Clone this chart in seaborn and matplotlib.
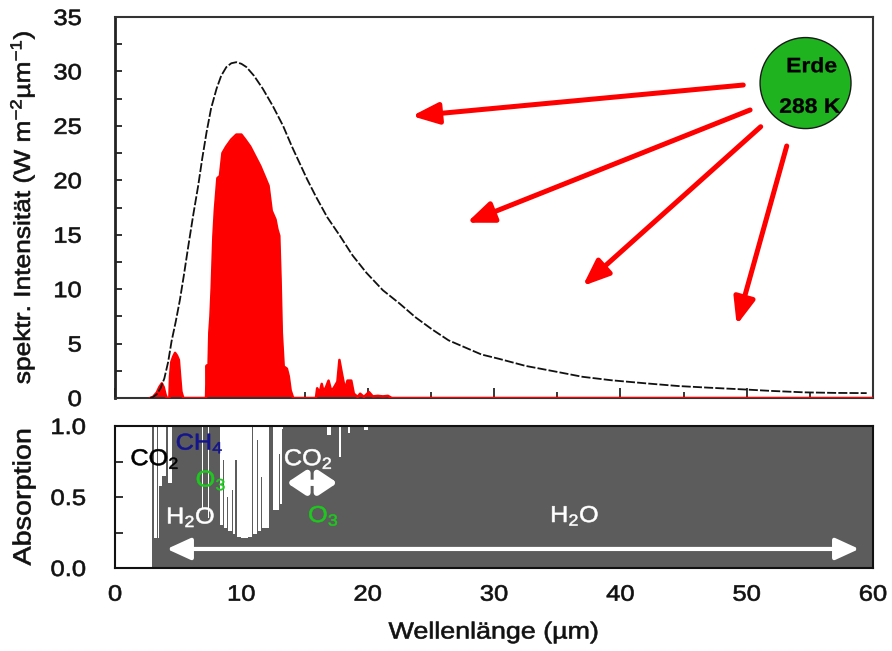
import matplotlib
matplotlib.use("Agg")
import matplotlib.pyplot as plt
import seaborn as sns
import numpy as np
import pandas as pd
from matplotlib.patches import Ellipse
from matplotlib.ticker import MultipleLocator, FixedLocator
from matplotlib.patheffects import AbstractPathEffect
from matplotlib.transforms import Affine2D

# ---------------- data ----------------
# Black curve: emission spectrum of a 288 K body
planck_x = [2.76, 3.0, 3.3, 3.6, 3.9, 4.2, 4.47, 4.8, 5.13, 5.45,
            5.79, 6.2, 6.58, 6.9, 7.24, 7.6, 8.03, 8.4, 8.81, 9.2,
            9.6, 10.0, 10.4, 11.0, 11.7, 12.5, 13.3, 14.0, 14.6, 15.2,
            15.9, 16.8, 17.8, 18.8, 19.9, 21.2, 22.5, 23.8, 25.1, 26.4,
            27.8, 29.0, 30.4, 32.5, 35.0, 37.0, 39.3, 42.0, 44.6, 47.0,
            49.6, 52.0, 54.6, 57.0, 59.5]
planck_y = [0.0, 0.08, 0.35, 0.9, 1.8, 3.3, 5.2, 7.0, 9.0, 11.3,
            13.9, 16.9, 19.5, 22.0, 24.4, 26.6, 28.4, 29.6, 30.4, 30.75,
            30.85, 30.7, 30.4, 29.6, 28.4, 26.8, 25.0, 23.1, 21.6, 20.1,
            18.5, 16.6, 14.9, 13.1, 11.5, 9.9, 8.7, 7.4, 6.3, 5.3,
            4.6, 4.0, 3.6, 2.95, 2.4, 1.95, 1.63, 1.35, 1.1, 0.95,
            0.8, 0.65, 0.52, 0.47, 0.45]

# Red: radiation leaving through the atmospheric windows
red_x = [2.76, 3.0, 3.3, 3.5, 3.7, 3.85, 4.0, 4.1, 4.3, 4.35,
         4.45, 4.6, 4.75, 4.9, 5.05, 5.15, 5.25, 5.4, 7.2, 7.26,
         7.32, 7.39, 7.46, 7.55, 7.65, 7.78, 7.9, 8.1, 8.3, 8.5,
         8.8, 9.2, 9.6, 10.0, 10.3, 10.7, 11.1, 11.5, 11.9, 12.15,
         12.4, 12.7, 12.85, 13.0, 13.1, 13.2, 13.35, 13.6, 13.75, 13.9,
         14.1, 15.9, 16.0, 16.2, 16.36, 16.5, 16.7, 16.9, 17.1, 17.3,
         17.6, 17.76, 17.95, 18.2, 18.4, 18.7, 18.9, 19.2, 19.4, 19.7,
         20.1, 20.4, 20.8, 21.2, 21.6, 21.9, 60.0]
red_y = [0.0, 0.1, 0.5, 1.0, 1.35, 1.0, 0.3, 0.0, 0.0, 2.0,
         3.3, 3.8, 4.15, 3.9, 3.5, 2.0, 0.6, 0.0, 0.0, 3.0,
         0.3, 2.5, 6.0, 7.5, 10.2, 14.8, 17.3, 20.2, 20.4, 22.5,
         23.1, 23.75, 24.2, 24.2, 23.75, 23.1, 22.2, 21.3, 20.2, 19.5,
         17.2, 16.4, 15.5, 14.9, 11.0, 6.0, 2.9, 2.7, 2.0, 0.7,
         0.0, 0.0, 0.9, 0.5, 1.3, 0.6, 1.0, 1.6, 0.7, 0.9,
         1.5, 3.5, 2.3, 0.8, 1.6, 1.6, 0.4, 0.1, 0.4, 0.1,
         0.55, 0.15, 0.2, 0.15, 0.2, 0.0, 0.0]

# Absorption of the atmosphere (value holds until the next wavelength)
abs_x = [0, 2.95, 3.10, 3.30, 3.38, 3.47, 3.75, 4.00, 4.20, 4.47,
         6.85, 6.95, 7.35, 7.45, 8.28, 8.55, 8.65, 8.85, 8.95, 9.25,
         9.35, 9.47, 9.65, 10.0, 10.5, 10.82, 10.90, 11.25, 11.35, 11.55,
         11.65, 12.2, 12.5, 12.95, 13.05, 13.2, 13.3, 16.8, 17.1, 17.75,
         17.9, 18.4, 18.6, 19.7, 20.0, 60]
abs_y = [0, 1.0, 0.21, 1.0, 0.21, 0.58, 0.65, 1.0, 0.60, 1.0,
         0.42, 1.0, 0.35, 1.0, 0.30, 0.76, 0.28, 0.50, 0.26, 0.55,
         0.24, 0.76, 0.22, 0.21, 0.22, 1.0, 0.24, 0.9, 0.26, 0.64,
         0.28, 1.0, 0.41, 0.80, 0.45, 0.98, 1.0, 0.94, 1.0, 0.78,
         1.0, 0.95, 1.0, 0.97, 1.0, 1.0]

x_ticks = [0, 10, 20, 30, 40, 50, 60]
y1_ticks = [0, 5, 10, 15, 20, 25, 30, 35]
y2_ticks = [0.0, 0.5, 1.0]
y2_labels = ["0.0", "0.5", "1.0"]


# ---------------- helpers ----------------
class Stretch(AbstractPathEffect):
    """Widen (and slightly embolden) text glyphs like the reference's wide Helvetica."""

    def __init__(self, sx=1.15, align="center", stroke=0.45):
        super().__init__()
        self.sx = sx
        self.align = align
        self.stroke = stroke

    def draw_path(self, renderer, gc, tpath, affine, rgbFace=None):
        ext = tpath.get_extents()
        if self.align == "right":
            anchor = ext.x1
        elif self.align == "left":
            anchor = ext.x0
        else:
            anchor = 0.5 * (ext.x0 + ext.x1)
        pre = Affine2D().scale(self.sx, 1.0).translate(anchor * (1.0 - self.sx), 0.0)
        gc0 = renderer.new_gc()
        gc0.copy_properties(gc)
        if rgbFace is not None and self.stroke > 0:
            gc0.set_linewidth(self.stroke)
            gc0.set_foreground(rgbFace)
        renderer.draw_path(gc0, tpath, pre + affine, rgbFace)
        gc0.restore()


def wide(text_obj, align="center", sx=1.15, stroke=0.45):
    text_obj.set_path_effects([Stretch(sx, align, stroke)])
    return text_obj


# ---------------- style ----------------
sns.set_theme(style="white")
plt.rcParams["font.family"] = ["Liberation Sans", "DejaVu Sans"]
plt.rcParams["mathtext.fontset"] = "custom"
plt.rcParams["mathtext.rm"] = "Liberation Sans"
plt.rcParams["mathtext.it"] = "Liberation Sans:italic"
plt.rcParams["mathtext.bf"] = "Liberation Sans:bold"

RED = "#ff0000"
GRAY = "#5c5c5c"
TXT = "#111111"

fig = plt.figure(figsize=(8.92, 6.51), dpi=100)
ax1 = fig.add_axes([0.129, 0.3886, 0.8497, 0.5853])
ax2 = fig.add_axes([0.129, 0.1275, 0.8497, 0.2181])

# ---------------- top panel ----------------
spec = pd.DataFrame({"x": red_x, "y": red_y})
ax1.fill_between(spec["x"], 0, spec["y"], color=RED, lw=0, zorder=2)
ax1.plot(spec["x"], spec["y"], color=RED, lw=1.8, zorder=3)

pl = pd.DataFrame({"x": planck_x, "y": planck_y})
sns.lineplot(data=pl, x="x", y="y", ax=ax1, color="#111111", lw=1.3,
             linestyle=(0, (5, 1.2)), sort=True, zorder=4)

ax1.set_xlim(0, 60)
ax1.set_ylim(0, 35)
ax1.set_xlabel("")
ax1.set_ylabel("spektr. Intensität (W m$^{-2}$µm$^{-1}$)", fontsize=16.5, color=TXT)
ax1.yaxis.set_label_coords(-0.103, 0.5)
ax1.yaxis.set_major_locator(FixedLocator(y1_ticks))
ax1.yaxis.set_minor_locator(MultipleLocator(2.5))
ax1.xaxis.set_major_locator(MultipleLocator(10))
ax1.xaxis.set_minor_locator(MultipleLocator(5))
ax1.tick_params(axis="y", which="both", direction="in", length=5, width=1.2,
                left=True, labelsize=16, pad=24, colors=TXT)
ax1.tick_params(axis="x", which="major", direction="in", length=7, width=1.3,
                bottom=True, labelbottom=False)
ax1.tick_params(axis="x", which="minor", direction="in", length=4.5, width=1.3,
                bottom=True)
for s in ["top", "right", "bottom"]:
    ax1.spines[s].set_color("#333333")
    ax1.spines[s].set_linewidth(1.5)
ax1.spines["left"].set_color("#222222")
ax1.spines["left"].set_linewidth(2.0)

# Earth symbol
earth = Ellipse((54.66, 28.93), width=7.2, height=8.36, facecolor="#1fb31f",
                edgecolor="#1a1a1a", lw=1.0, zorder=6)
ax1.add_patch(earth)
wide(ax1.text(55.15, 30.43, "Erde", ha="center", va="center", fontsize=15,
              fontweight="bold", color="black", zorder=7), sx=1.1, stroke=0.2)
wide(ax1.text(55.0, 26.7, "288 K", ha="center", va="center", fontsize=15,
              fontweight="bold", color="black", zorder=7), sx=1.1, stroke=0.2)

# radiation arrows
arrow_props = dict(arrowstyle="-|>,head_length=0.8,head_width=0.32",
                   color=RED, lw=3.6, mutation_scale=20, shrinkA=0, shrinkB=0)
for tail, tip in [((49.73, 28.75), (23.49, 25.9)),
                  ((50.27, 26.46), (27.84, 16.10)),
                  ((51.11, 24.92), (37.02, 10.29)),
                  ((53.17, 23.15), (49.21, 6.71))]:
    ax1.annotate("", xy=tip, xytext=tail, arrowprops=arrow_props, zorder=5)

# ---------------- bottom panel ----------------
ab = pd.DataFrame({"x": abs_x, "y": abs_y})
ax2.fill_between(ab["x"], 0, ab["y"], step="post", color=GRAY, lw=0)
ax2.set_xlim(0, 60)
ax2.set_ylim(0, 1)
ax2.set_xticks(x_ticks)
ax2.set_xticklabels([str(t) for t in x_ticks])
ax2.set_yticks(y2_ticks)
ax2.set_yticklabels(y2_labels)
ax2.yaxis.set_minor_locator(MultipleLocator(0.25))
ax2.tick_params(axis="y", which="both", direction="in", length=6, width=1.2,
                left=True, labelsize=16, pad=21, colors=TXT)
ax2.tick_params(axis="x", which="both", length=0, labelsize=16, pad=12,
                colors=TXT)
ax2.set_ylabel("Absorption", fontsize=18, color=TXT)
ax2.yaxis.set_label_coords(-0.105, 0.5)
ax2.set_xlabel("Wellenlänge (µm)", fontsize=16.8, color=TXT)
ax2.xaxis.set_label_coords(0.5, -0.37)
for s in ax2.spines.values():
    s.set_color("#111111")
    s.set_linewidth(1.5)

fs = 16.5
labels = [
    (3.15, 0.77, "CO$_2$", "black"),
    (6.7, 0.88, "CH$_4$", "#14148c"),
    (7.6, 0.62, "O$_3$", "#1ec81e"),
    (6.0, 0.36, "H$_2$O", "white"),
    (15.3, 0.77, "CO$_2$", "white"),
    (16.5, 0.37, "O$_3$", "#1ec81e"),
    (36.4, 0.37, "H$_2$O", "white"),
]
for lx, ly, s, c in labels:
    wide(ax2.text(lx, ly, s, color=c, ha="center", va="center", fontsize=fs),
         sx=1.1, stroke=0.4)

ax2.annotate("", xy=(17.6, 0.6), xytext=(13.6, 0.6),
             arrowprops=dict(arrowstyle="<|-|>,head_length=0.54,head_width=0.36",
                             color="white", lw=4.5, mutation_scale=20,
                             shrinkA=0, shrinkB=0))
ax2.annotate("", xy=(58.9, 0.134), xytext=(4.1, 0.134),
             arrowprops=dict(arrowstyle="<|-|>,head_length=0.72,head_width=0.33",
                             color="white", lw=3.0, mutation_scale=20,
                             shrinkA=0, shrinkB=0))

# widen tick labels and axis labels like the reference font
for t in ax1.get_yticklabels() + ax2.get_yticklabels():
    wide(t, "right")
for t in ax2.get_xticklabels():
    wide(t, "center")
wide(ax1.yaxis.label, "center")
wide(ax2.yaxis.label, "center")
wide(ax2.xaxis.label, "center")

fig.savefig("out.png", dpi=100)
